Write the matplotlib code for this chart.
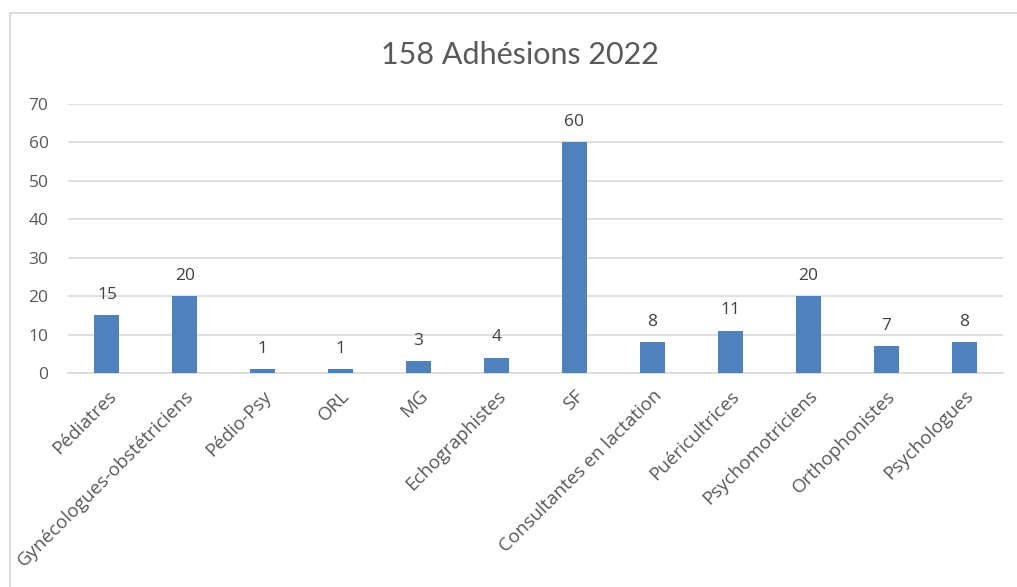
import matplotlib
matplotlib.use("Agg")
import matplotlib.pyplot as plt
from matplotlib.patches import Rectangle

categories = ["Pédiatres", "Gynécologues-obstétriciens", "Pédio-Psy", "ORL", "MG",
              "Echographistes", "SF", "Consultantes en lactation", "Puéricultrices",
              "Psychomotriciens", "Orthophonistes", "Psychologues"]
values = [15, 20, 1, 1, 3, 4, 60, 8, 11, 20, 7, 8]
yticks = [0, 10, 20, 30, 40, 50, 60, 70]
title = "158 Adhésions 2022"

W, H = 1017, 587
fig = plt.figure(figsize=(W / 100, H / 100), dpi=100)

# chart frame
fig.patches.append(Rectangle((10 / W, -0.05), 1.2, 1 - 13 / H + 0.05,
                             transform=fig.transFigure, fill=False,
                             edgecolor="#d9d9d9", linewidth=1.3))

ax = fig.add_axes([68 / W, 1 - 373 / H, (1003 - 68) / W, (373 - 104) / H])
x = range(len(categories))
ax.bar(x, values, width=0.32, color="#4F81BD", zorder=3)

for xi, v in zip(x, values):
    ax.annotate(str(v), (xi, v), xytext=(0, 9), textcoords="offset points",
                ha="center", va="bottom", fontsize=12.5, color="#404040",
                family="Open Sans")

ax.set_xlim(-0.5, len(categories) - 0.5)
ax.set_ylim(0, 70)
ax.set_yticks(yticks)
ax.yaxis.grid(True, color="#d9d9d9", linewidth=1.2, zorder=0)
ax.set_axisbelow(True)
for s in ["top", "right", "left"]:
    ax.spines[s].set_visible(False)
ax.spines["bottom"].set_color("#d9d9d9")
ax.spines["bottom"].set_linewidth(1.2)
ax.tick_params(axis="both", length=0, labelcolor="#595959")
ax.tick_params(axis="y", pad=14, labelsize=12.5)
ax.tick_params(axis="x", pad=10, labelsize=13.5)
ax.set_xticks(list(x))
ax.set_xticklabels(categories, rotation=45, ha="right", rotation_mode="anchor",
                   family="Open Sans")
for lbl in ax.get_yticklabels():
    lbl.set_family("Open Sans")

fig.text(520 / W, 1 - 55 / H, title, ha="center", va="center", fontsize=22,
         color="#595959", family="Lato")

fig.savefig("out.png", dpi=100)
